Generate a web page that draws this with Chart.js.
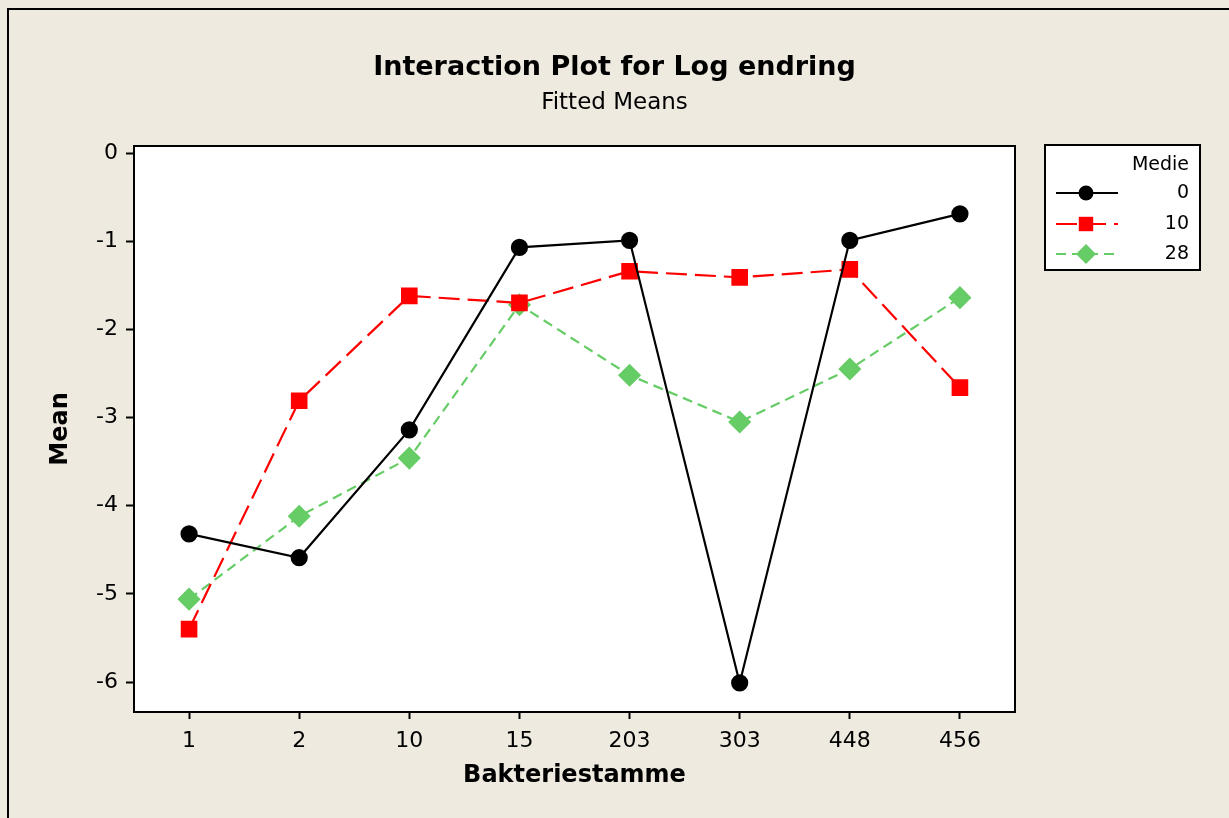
<!DOCTYPE html>
<html lang="no">
  <head>
    <meta charset="UTF-8" />
    <title>Interaction Plot for Log endring</title>
    <script src="https://cdn.jsdelivr.net/npm/chart.js"></script>
    <style>
      html, body { margin: 0; padding: 0; background: #eeeae0; }
      #wrap { width: 1229px; height: 818px; }
    </style>
  </head>
  <body>
    <div id="wrap"><canvas id="plot"></canvas></div>

    <script>
      // bakteriestammer (x) og medie-nivå (serier)
      const stammer = ["1", "2", "10", "15", "203", "303", "448", "456"];
      const medie0 = [-4.32, -4.59, -3.14, -1.07, -0.99, -6.01, -0.99, -0.69];
      const medie10 = [-5.40, -2.81, -1.62, -1.70, -1.34, -1.41, -1.32, -2.66];
      const medie28 = [-5.06, -4.12, -3.46, -1.72, -2.52, -3.05, -2.45, -1.64];
      const yTicks = [0, -1, -2, -3, -4, -5, -6];

      const FONT = "'DejaVu Sans', sans-serif";

      // bakgrunn, ramme rundt plottet og ytre kant
      const ramme = {
        id: "ramme",
        beforeDraw(chart) {
          const c = chart.ctx;
          c.save();
          c.fillStyle = "#eeeae0";
          c.fillRect(0, 0, chart.width, chart.height);
          c.strokeStyle = "#000";
          c.lineWidth = 2;
          c.strokeRect(8, 9, chart.width + 20, chart.height + 20);
          const a = chart.chartArea;
          c.fillStyle = "#fff";
          c.fillRect(a.left, a.top, a.right - a.left, a.bottom - a.top);
          c.restore();
        },
        afterDatasetsDraw(chart) {
          const c = chart.ctx;
          const a = chart.chartArea;
          c.save();
          c.strokeStyle = "#000";
          c.lineWidth = 2;
          c.strokeRect(a.left, a.top, a.right - a.left, a.bottom - a.top);
          c.restore();
        },
      };

      // egen forklaring med tittel "Medie" og høyrejusterte etiketter
      const forklaring = {
        id: "forklaring",
        afterDraw(chart) {
          const c = chart.ctx;
          const x0 = 1045, y0 = 145, w = 155, h = 125;
          c.save();
          c.fillStyle = "#fff";
          c.fillRect(x0, y0, w, h);
          c.strokeStyle = "#000";
          c.lineWidth = 2;
          c.strokeRect(x0, y0, w, h);
          c.fillStyle = "#000";
          c.font = "19px " + FONT;
          c.textAlign = "right";
          c.textBaseline = "middle";
          c.fillText("Medie", 1189, 165);
          const rader = [193, 224, 254];
          chart.data.datasets.forEach((ds, i) => {
            const y = rader[i];
            c.strokeStyle = ds.borderColor;
            c.lineWidth = ds.borderWidth;
            c.setLineDash(ds.borderDash || []);
            c.beginPath();
            c.moveTo(1056, y);
            c.lineTo(1118, y);
            c.stroke();
            c.setLineDash([]);
            c.fillStyle = ds.pointBackgroundColor;
            Chart.helpers.drawPoint(c, {
              pointStyle: ds.pointStyle,
              radius: ds.pointRadius,
              borderWidth: 0,
            }, 1086, y);
            c.fillStyle = "#000";
            c.fillText(ds.label, 1189, y);
          });
          c.restore();
        },
      };

      new Chart(plot, {
        type: "line",
        data: {
          labels: stammer,
          datasets: [
            {
              label: "0",
              data: medie0,
              borderColor: "#000000",
              backgroundColor: "#000000",
              pointBackgroundColor: "#000000",
              borderWidth: 2.2,
              pointStyle: "circle",
              pointRadius: 7.5,
            },
            {
              label: "10",
              data: medie10,
              borderColor: "#ff0000",
              backgroundColor: "#ff0000",
              pointBackgroundColor: "#ff0000",
              borderWidth: 2.2,
              borderDash: [21, 8],
              pointStyle: "rect",
              pointRadius: 10.2,
            },
            {
              label: "28",
              data: medie28,
              borderColor: "#66cc66",
              backgroundColor: "#66cc66",
              pointBackgroundColor: "#66cc66",
              borderWidth: 2.2,
              borderDash: [10, 6],
              pointStyle: "rectRot",
              pointRadius: 10,
            },
          ],
        },
        options: {
          responsive: true,
          maintainAspectRatio: false,
          animation: false,
          layout: { padding: 0 },
          elements: {
            line: { tension: 0 },
            point: { borderWidth: 0, hoverRadius: 8 },
          },
          plugins: {
            legend: { display: false },
            tooltip: { enabled: false },
            title: {
              display: true,
              text: "Interaction Plot for Log endring",
              color: "#000",
              font: { family: FONT, size: 27, weight: "bold" },
              padding: { top: 52, bottom: 2 },
            },
            subtitle: {
              display: true,
              text: "Fitted Means",
              color: "#000",
              font: { family: FONT, size: 23 },
              padding: { top: 3, bottom: 29 },
            },
          },
          scales: {
            x: {
              offset: true,
              grid: {
                drawOnChartArea: false,
                drawTicks: true,
                tickLength: 7,
                tickWidth: 2,
                color: "#000",
                offset: false,
              },
              border: { display: false },
              ticks: {
                color: "#000",
                font: { family: FONT, size: 22 },
                padding: 9,
                maxRotation: 0,
              },
              title: {
                display: true,
                text: "Bakteriestamme",
                color: "#000",
                font: { family: FONT, size: 24, weight: "bold" },
                padding: { bottom: 28 },
              },
              afterFit(s) { s.height = 106; },
            },
            y: {
              min: -6.34,
              max: 0.08,
              grid: {
                drawOnChartArea: false,
                drawTicks: true,
                tickLength: 8,
                tickWidth: 2,
                color: "#000",
              },
              border: { display: false },
              ticks: {
                color: "#000",
                font: { family: FONT, size: 22 },
                padding: 8,
              },
              afterBuildTicks(s) {
                s.ticks = yTicks.map((v) => ({ value: v }));
              },
              title: {
                display: true,
                text: "Mean",
                color: "#000",
                font: { family: FONT, size: 24, weight: "bold" },
                padding: { top: 46 },
              },
              afterFit(s) { s.width = 134; },
            },
            // tom akse til høyre som holder plass til forklaringen
            side: {
              type: "linear",
              position: "right",
              display: true,
              grid: { display: false },
              border: { display: false },
              ticks: { display: false },
              afterFit(s) { s.width = 214; },
            },
          },
        },
        plugins: [ramme, forklaring],
      });
    </script>
  </body>
</html>
